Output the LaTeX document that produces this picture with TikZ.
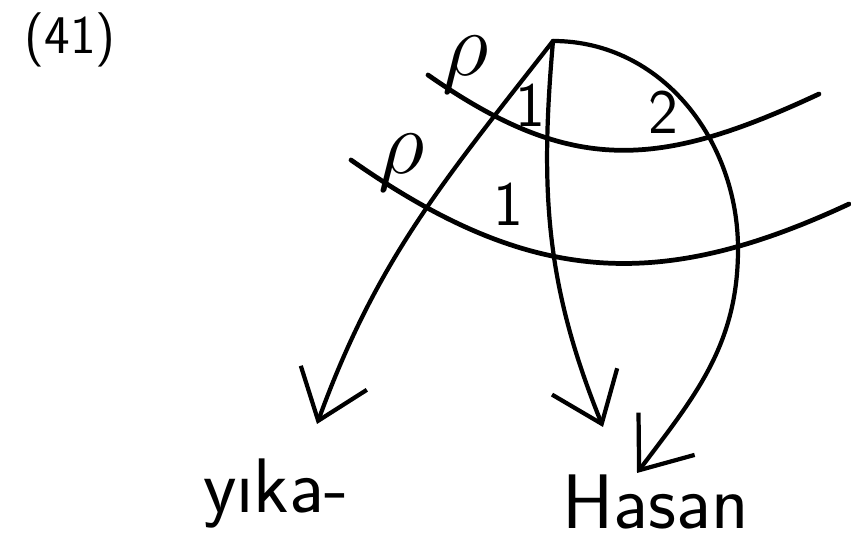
\RequirePackage{fix-cm}
\documentclass[tikz,border=0pt]{standalone}
\usepackage{tikz}
\usetikzlibrary{arrows.meta}

\begin{document}
\begin{tikzpicture}[
  x=0.02cm, y=0.02cm,
  arr/.style={-{Straight Barb[length=26pt,width=40pt]}, line width=2.4pt, line cap=round, line join=round},
  arc/.style={line width=2.7pt, line cap=round},
  lbl/.style={font=\sffamily\fontsize{36}{36}\selectfont, inner sep=0pt},
  greek/.style={font=\fontsize{52}{52}\selectfont, inner sep=0pt},
  word/.style={font=\sffamily\fontsize{44}{44}\selectfont, inner sep=0pt}
]
\useasboundingbox (0,0) rectangle (851,547);

\coordinate (top) at (553,506);
\coordinate (yikaTip) at (317,123);
\coordinate (midTip) at (603,120);
\coordinate (hasanTip) at (637,74);
\coordinate (bend) at (738,298);

% the two crossing arcs
\coordinate (upA) at (428,472);
\coordinate (upB) at (819,453);
\coordinate (loA) at (351,387);
\coordinate (loB) at (849,343);
\draw[arc] (upA) to[out=-35,in=205,looseness=1.15] (upB);
\draw[arc] (loA) to[out=-35,in=205,looseness=1.1] (loB);

% arrows from the top
\draw[arr] (top) to[out=232,in=70] (yikaTip);
\draw[arr] (top) to[out=265,in=112] (midTip);
\draw[arr] (top) to[out=0,in=90] (bend) to[out=-90,in=53] (hasanTip);

\node[font=\sffamily\fontsize{31}{31}\selectfont, inner sep=0pt] (num) at (70,507) {(41)};

\node[greek] (rhoA) at (466,482) {$\rho$};
\node[greek] (rhoB) at (402,384) {$\rho$};
\node[lbl] (oneA) at (530,442) {1};
\node[lbl] (oneB) at (508,343) {1};
\node[lbl] (two) at (663,435) {2};

\node[word, anchor=base west] (yika) at (203,34) {yıka-};
\node[word, anchor=base west] (hasan) at (562,18) {Hasan};
\end{tikzpicture}
\end{document}
